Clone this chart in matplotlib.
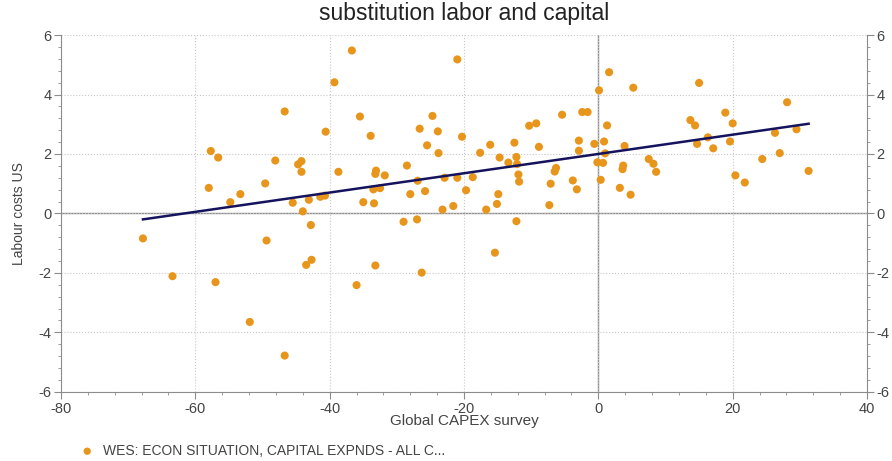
import numpy as np
import matplotlib.pyplot as plt
from matplotlib.ticker import MultipleLocator

plt.rcParams['font.family'] = ['Liberation Sans', 'DejaVu Sans']
plt.rcParams['axes.unicode_minus'] = False

# Global CAPEX survey (x) vs US labour costs (y)
capex = [-67.8, -63.4, -58.0, -57.7, -57.0, -56.6, -54.8, -53.3, -51.9, -49.6,
         -49.4, -48.1, -46.7, -46.7, -45.5, -44.2, -44.7, -44.2, -44.0, -43.1,
         -42.8, -42.7, -43.5, -41.4, -40.7, -40.6, -39.3, -38.7, -36.7, -36.0,
         -35.5, -35.0, -33.9, -33.5, -33.4, -33.2, -33.1, -33.2, -32.5, -31.8,
         -29.0, -28.5, -28.0, -27.0, -26.9, -26.6, -26.3, -25.8, -25.5, -24.7,
         -23.9, -23.8, -23.2, -22.9, -21.6, -21.0, -21.0, -20.3, -19.7, -18.7,
         -17.6, -16.7, -16.1, -15.4, -15.1, -14.9, -14.7, -13.4, -12.5, -12.2,
         -12.1, -11.9, -11.8, -12.2, -10.3, -9.25, -8.85, -7.3, -7.1, -6.3,
         -6.5, -5.4, -3.8, -3.2, -2.9, -2.9, -2.4, -1.6, -0.6, -0.15,
         0.7, 0.35, 0.1, 0.85, 1.0, 1.3, 1.6, 3.2, 3.6, 3.7,
         3.9, 4.8, 5.2, 7.5, 8.2, 8.6, 13.7, 14.4, 14.7, 15.0,
         16.3, 17.1, 18.9, 19.6, 20.0, 20.4, 21.8, 24.4, 26.3, 27.0,
         28.1, 29.5, 31.3]
labour = [-0.84, -2.11, 0.86, 2.10, -2.31, 1.88, 0.38, 0.65, -3.65, 1.01,
          -0.91, 1.78, 3.43, -4.78, 0.36, 1.76, 1.65, 1.40, 0.07, 0.46,
          -0.39, -1.56, -1.73, 0.56, 0.60, 2.75, 4.41, 1.40, 5.48, -2.41,
          3.26, 0.38, 2.61, 0.81, 0.34, -1.75, 1.44, 1.33, 0.85, 1.28,
          -0.28, 1.61, 0.65, -0.20, 1.10, 2.85, -1.99, 0.75, 2.29, 3.28,
          2.76, 2.03, 0.13, 1.20, 0.25, 5.18, 1.20, 2.58, 0.78, 1.22,
          2.04, 0.13, 2.31, -1.32, 0.32, 0.65, 1.88, 1.71, 2.38, 1.90,
          1.66, 1.31, 1.07, -0.26, 2.95, 3.03, 2.24, 0.28, 1.00, 1.53,
          1.41, 3.32, 1.11, 0.81, 2.45, 2.11, 3.41, 3.41, 2.34, 1.72,
          1.70, 1.13, 4.14, 2.42, 2.02, 2.96, 4.75, 0.86, 1.49, 1.61,
          2.27, 0.63, 4.23, 1.83, 1.67, 1.40, 3.14, 2.96, 2.34, 4.39,
          2.56, 2.19, 3.39, 2.42, 3.03, 1.28, 1.04, 1.83, 2.71, 2.03,
          3.74, 2.83, 1.43]

series_name = 'WES: ECON SITUATION, CAPITAL EXPNDS - ALL C...'

x = np.array(capex)
y = np.array(labour)
slope, intercept = np.polyfit(x, y, 1)

fig = plt.figure(figsize=(8.92, 4.61), dpi=100)
ax = fig.add_axes([0.0684, 0.150, 0.9036, 0.774])

ax.grid(True, which='major', color='#c8c8c8', linestyle=':', linewidth=0.8)
ax.axhline(0, color='#8c8c8c', linewidth=1.0, zorder=1)
ax.axvline(0, color='#8c8c8c', linewidth=1.0, zorder=1)

pts = ax.scatter(x, y, s=34, color='#E8951C', edgecolors='none', zorder=3)
xl = np.array([x.min(), x.max()])
ax.plot(xl, intercept + slope * xl, color='#15135e', linewidth=1.8, zorder=4)

ax.set_xlim(-80, 40)
ax.set_ylim(-6, 6)
ax.xaxis.set_major_locator(MultipleLocator(20))
ax.xaxis.set_minor_locator(MultipleLocator(4))
ax.yaxis.set_major_locator(MultipleLocator(2))
ax.yaxis.set_minor_locator(MultipleLocator(0.4))

for side in ['left', 'right', 'bottom']:
    ax.spines[side].set_color('#8c8c8c')
ax.spines['top'].set_visible(False)

ax.tick_params(which='both', direction='out', colors='#8c8c8c',
               labelcolor='#444444', labelsize=10.5, right=True, labelright=True)
ax.tick_params(which='major', length=5, pad=2)
ax.tick_params(which='minor', length=2.5)
ax.tick_params(axis='x', which='minor', length=2)

ax.set_title('substitution labor and capital', fontsize=16.5, color='#222222', pad=11)
ax.set_xlabel('Global CAPEX survey', fontsize=11, color='#444444', labelpad=-1)
ax.set_ylabel('Labour costs US', fontsize=10, color='#444444', labelpad=9)

fig.legend([pts], [series_name], loc='center left', bbox_to_anchor=(0.076, 0.022),
           frameon=False, fontsize=10, labelcolor='#444444',
           handlelength=1.0, handletextpad=0.6, markerscale=0.9)

fig.savefig('out.png', dpi=100)
